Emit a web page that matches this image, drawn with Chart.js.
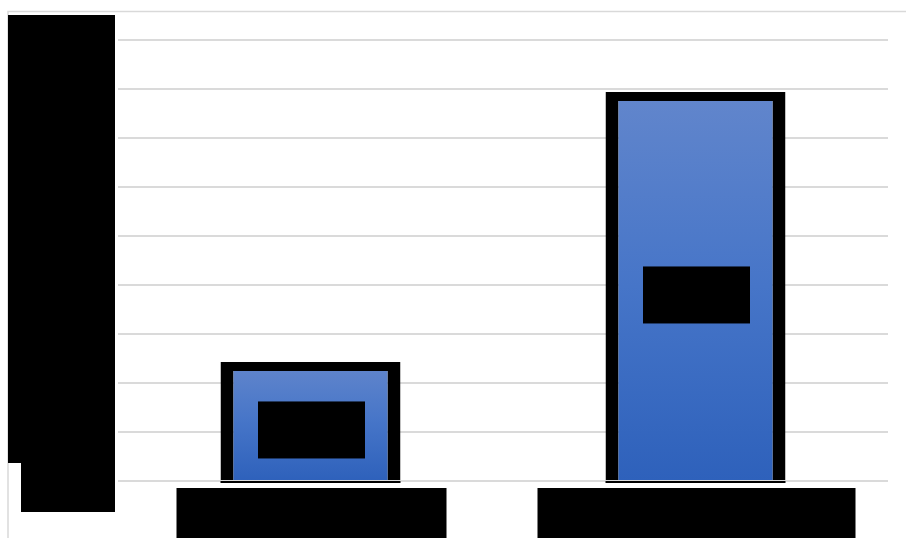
<!DOCTYPE html>
<html>
<head>
<meta charset="utf-8">
<script src="https://cdn.jsdelivr.net/npm/chart.js@4/dist/chart.umd.min.js"></script>
<style>
    html, body { margin: 0; padding: 0; background: #fff; }
    canvas { display: block; }
</style>
</head>
<body>
<canvas id="barChart" width="906" height="538"></canvas>
<script>
// data (labels are redacted in the source, only the shapes remain)
const categories = ["Category A", "Category B"];
const values = [2.43, 7.94];
const yTicks = [0, 1, 2, 3, 4, 5, 6, 7, 8, 9];

// widths of the black boxes hiding the category labels
const labelBoxWidths = [270, 318];

document.addEventListener("DOMContentLoaded", function () {
    const ctx = document.getElementById("barChart").getContext("2d");

    // vertical gradient per bar, like the Excel fill
    function barGradient(context) {
        const chart = context.chart;
        const y = chart.scales.y;
        if (!chart.chartArea || !y) return "#4472c4";
        const top = y.getPixelForValue(context.raw);
        const bottom = y.getPixelForValue(0);
        const g = chart.ctx.createLinearGradient(0, top, 0, bottom);
        g.addColorStop(0, "#6286cc");
        g.addColorStop(0.5, "#4675c8");
        g.addColorStop(1, "#2e61bb");
        return g;
    }

    // frame, redaction boxes and hidden texts
    const redactions = {
        id: "redactions",
        beforeDraw(chart) {
            const c = chart.ctx;
            c.save();
            c.strokeStyle = "#d9d9d9";
            c.lineWidth = 1.5;
            c.beginPath();
            c.moveTo(8, 538);
            c.lineTo(8, 11.5);
            c.lineTo(906, 11.5);
            c.stroke();
            c.restore();
        },
        afterDatasetsDraw(chart) {
            const c = chart.ctx;
            const area = chart.chartArea;
            const meta = chart.getDatasetMeta(0);
            c.save();
            c.fillStyle = "#000";
            c.textAlign = "center";
            c.textBaseline = "middle";

            // thin black line under each bar
            meta.data.forEach(function (bar) {
                c.fillRect(bar.x - bar.width / 2, bar.base + 1, bar.width, 2);
            });

            // y axis labels (hidden)
            c.fillRect(8, 15, area.left - 3 - 8, 448);
            c.fillRect(21, 463, area.left - 3 - 21, 49);
            c.font = "16px Calibri, 'Liberation Sans', sans-serif";
            yTicks.forEach(function (t) {
                c.fillText(String(t), 90, chart.scales.y.getPixelForValue(t));
            });

            // category labels (hidden)
            meta.data.forEach(function (bar, i) {
                const w = labelBoxWidths[i];
                c.fillRect(bar.x + 1 - w / 2, area.bottom + 7, w, 60);
                c.fillText(categories[i], bar.x, area.bottom + 30);
            });

            // data labels (hidden)
            meta.data.forEach(function (bar, i) {
                const cy = (bar.y + bar.base) / 2 + 9;
                c.fillRect(bar.x + 1 - 53.5, cy - 28.5, 107, 57);
                c.fillText(String(values[i]), bar.x, cy);
            });
            c.restore();
        },
    };

    new Chart(ctx, {
        type: "bar",
        data: {
            labels: categories,
            datasets: [
                {
                    data: values,
                    backgroundColor: barGradient,
                    borderColor: "#000",
                    borderWidth: { top: 9, left: 13, right: 13, bottom: 0 },
                    borderSkipped: "start",
                    categoryPercentage: 1,
                    barPercentage: 0.4675,
                },
            ],
        },
        options: {
            responsive: false,
            animation: false,
            layout: {
                padding: { left: 118, right: 18, top: 40, bottom: 49 },
            },
            plugins: {
                legend: { display: false },
                tooltip: { enabled: false },
            },
            scales: {
                x: {
                    grid: { display: false },
                    border: { display: false },
                    ticks: { display: false },
                },
                y: {
                    min: 0,
                    max: 9,
                    ticks: { display: false, stepSize: 1 },
                    grid: { color: "#dadada", lineWidth: 2, drawTicks: false },
                    border: { display: false },
                },
            },
        },
        plugins: [redactions],
    });
});
</script>
</body>
</html>
